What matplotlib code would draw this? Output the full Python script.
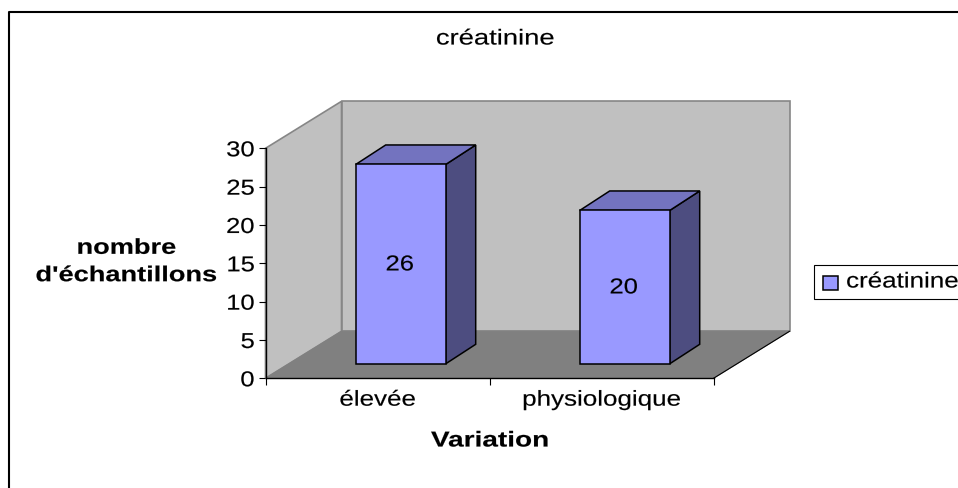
import matplotlib
matplotlib.use("Agg")
import matplotlib.pyplot as plt
from matplotlib.legend_handler import HandlerPatch
from matplotlib.patches import Polygon, Rectangle
from matplotlib.patheffects import AbstractPathEffect
from matplotlib.transforms import Affine2D

categories = ["élevée", "physiologique"]
values = [26, 20]
series_name = "créatinine"
y_ticks = [0, 5, 10, 15, 20, 25, 30]
title = "créatinine"
x_label = "Variation"
y_label = "nombre\nd'échantillons"

W, H = 958, 488
FS = 15.5
K = 14.5 / FS
plt.rcParams["font.family"] = ["Liberation Sans", "DejaVu Sans"]
fig = plt.figure(figsize=(W / 100, H / 100), dpi=100, facecolor="white")


class HStretch(AbstractPathEffect):
    """Widen real text horizontally, as the reference's text is."""

    def __init__(self, sx, anchor="center"):
        super().__init__()
        self.sx, self.anchor = sx, anchor

    def draw_path(self, renderer, gc, tpath, affine, rgbFace=None):
        e = tpath.transformed(affine).get_extents()
        cx = {"center": (e.x0 + e.x1) / 2, "right": e.x1, "left": e.x0}[self.anchor]
        st = Affine2D().translate(-cx, 0).scale(self.sx, 1).translate(cx, 0)
        g = renderer.new_gc()
        g.copy_properties(gc)
        g.set_linewidth(0.12)
        g.set_foreground("black")
        renderer.draw_path(g, tpath, affine + st, rgbFace)
        g.restore()


def stretch(t, sx, anchor="center"):
    t.set_path_effects([HStretch(sx * K, anchor)])
    return t


L, R, T, B = 265.5, 713.5, 148.3, 378.3
ax = fig.add_axes([L / W, 1 - B / H, (R - L) / W, (B - T) / H])
ax.set_xlim(0, len(categories))
ax.set_ylim(0, 30)
ax.patch.set_visible(False)
for s in ["top", "right"]:
    ax.spines[s].set_visible(False)
for s in ["left", "bottom"]:
    ax.spines[s].set_linewidth(1.0)
    ax.spines[s].set_zorder(6)

ux = (R - L) / len(categories)
uy = (B - T) / 30
wall_dx, wall_dy = 76 / ux, 47 / uy
bar_dx, bar_dy = 30 / ux, 19.5 / uy
off_dx, off_dy = 23.2 / ux, 14.5 / uy
bar_w = 90 / ux
n = len(categories)

wall = "#c0c0c0"
floor = "#808080"
edge = "#868686"
kw = dict(clip_on=False)
ax.add_patch(Polygon([(0, 0), (wall_dx, wall_dy), (wall_dx, 30 + wall_dy), (0, 30)],
                     fc=wall, ec=edge, lw=1.2, zorder=1, **kw))
ax.add_patch(Rectangle((wall_dx, wall_dy), n, 30, fc=wall, ec=edge, lw=1.2, zorder=1, **kw))
ax.add_patch(Polygon([(0, 0), (wall_dx, wall_dy), (n + wall_dx, wall_dy), (n, 0)],
                     fc=floor, ec=floor, lw=0.8, zorder=2, **kw))
ax.plot([n, n + wall_dx], [0, wall_dy], color="black", lw=0.8, zorder=3, **kw)

for i, v in enumerate(values):
    x0 = i + 0.5 - bar_w / 2 + off_dx
    x1 = x0 + bar_w
    y0 = off_dy
    y1 = v + off_dy
    ax.add_patch(Polygon([(x1, y0), (x1 + bar_dx, y0 + bar_dy), (x1 + bar_dx, y1 + bar_dy), (x1, y1)],
                         fc="#4d4d80", ec="black", lw=1.1, zorder=4, joinstyle="miter", **kw))
    ax.add_patch(Polygon([(x0, y1), (x1, y1), (x1 + bar_dx, y1 + bar_dy), (x0 + bar_dx, y1 + bar_dy)],
                         fc="#7373bf", ec="black", lw=1.1, zorder=4, joinstyle="miter", **kw))
    ax.add_patch(Rectangle((x0, y0), bar_w, v, fc="#9999ff", ec="black", lw=1.1, zorder=5, **kw))
    stretch(ax.text((x0 + x1) / 2 - 0.004, y0 + v / 2 - 0.1, str(v), ha="center", va="center",
                    fontsize=FS, color="black", zorder=7), 1.27)

ax.set_yticks(y_ticks)
ax.set_xticks(range(n + 1))
ax.set_xticklabels([""] * (n + 1))
ax.tick_params(axis="y", length=5, width=0.8, labelsize=FS, pad=2.9)
ax.tick_params(axis="x", length=5, width=0.8)
for lab in ax.get_yticklabels():
    stretch(lab, 1.27, "right")
for i, c in enumerate(categories):
    stretch(ax.text(i + 0.5, -2.85, c, ha="center", va="center", fontsize=FS), 1.29)

stretch(fig.text(495 / W, 1 - 39 / H, title, ha="center", va="center", fontsize=FS), 1.36)
stretch(fig.text(490 / W, 1 - 441 / H, x_label, ha="center", va="center", fontsize=FS,
                 fontweight="bold"), 1.39)
stretch(fig.text(126.5 / W, 1 - 262 / H, y_label, ha="center", va="center", fontsize=FS,
                 fontweight="bold", linespacing=1.4), 1.35)

# Legend frame runs past the right edge of the picture, as in the reference.
fig.add_artist(Rectangle((813.5 / W, 1 - 299 / H), 170 / W, 34.5 / H, fc="white", ec="black",
                         lw=0.8, transform=fig.transFigure))
handle = Rectangle((0, 0), 1, 1, fc="#9999ff", ec="black", lw=1.1)


def low_box(legend, orig_handle, xdescent, ydescent, width, height, fontsize):
    return Rectangle((-xdescent, -ydescent - 2.2), width, height)


leg = fig.legend([handle], [series_name], loc="upper left",
                 bbox_to_anchor=(823 / W, 1 - 271.5 / H), fontsize=FS,
                 frameon=False, borderpad=0, handlelength=0.7, handleheight=0.56,
                 handletextpad=0.38, borderaxespad=0,
                 handler_map={Rectangle: HandlerPatch(patch_func=low_box)})
stretch(leg.get_texts()[0], 1.29, "left")

fig.add_artist(plt.Line2D([9 / W, 9 / W, 958 / W], [0, 1 - 11.5 / H, 1 - 11.5 / H],
                          color="black", lw=1.5, transform=fig.transFigure))
fig.savefig("out.png", dpi=100)
